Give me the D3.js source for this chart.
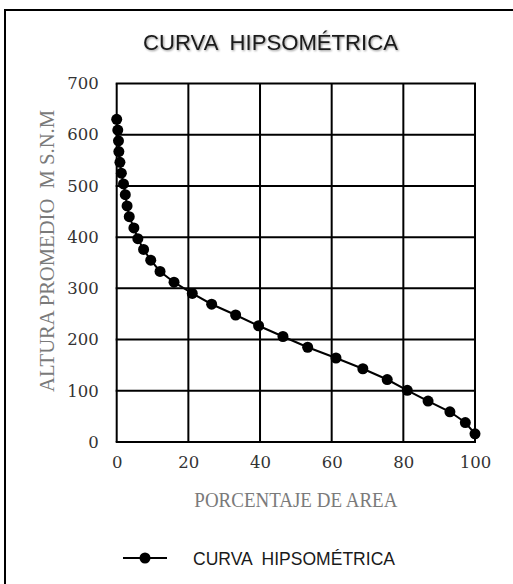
<!DOCTYPE html>
<html>
<head>
<meta charset="utf-8">
<script src="https://cdn.jsdelivr.net/npm/d3@7"></script>
<style>
  body { margin: 0; background: #fff; }
  svg { display: block; }
</style>
</head>
<body>
<svg id="chart" width="513" height="584"></svg>
<script>
// Porcentaje de area acumulada (x) y altura promedio m s.n.m (y)
const areaPct = [0, 0.3, 0.5, 0.6, 0.9, 1.3, 1.9, 2.4, 2.9, 3.5, 4.8, 5.9, 7.5, 9.5, 12.1,
    16.0, 21.1, 26.5, 33.2, 39.6, 46.4, 53.3, 61.2, 68.7, 75.5, 81.1, 86.9, 93.0, 97.3, 100];
const altura = [630, 609, 588, 567, 546, 525, 504, 483, 461, 440, 418, 397, 376, 355, 333,
    312, 290, 269, 248, 227, 206, 185, 164, 143, 122, 101, 80, 59, 38, 16];
const xTicks = [0, 20, 40, 60, 80, 100];
const yTicks = [0, 100, 200, 300, 400, 500, 600, 700];

const titulo = "CURVA  HIPSOMÉTRICA";
const xTitulo = "PORCENTAJE DE AREA";
const yTitulo = "ALTURA PROMEDIO  M S.N.M";

let svg = d3.select('svg#chart'),
    margin = {top: 83.5, right: 38, bottom: 142, left: 116.7},
    width = +svg.attr("width"),
    height = +svg.attr("height");

let x = d3.scaleLinear().domain([0, 100]).range([margin.left, width - margin.right]);
let y = d3.scaleLinear().domain([0, 700]).range([height - margin.bottom, margin.top]);

// outer frame (cut off at right and bottom like the picture)
svg.append('rect')
    .attr('x', 5).attr('y', 10)
    .attr('width', 540).attr('height', 620)
    .attr('fill', 'none').attr('stroke', '#000').attr('stroke-width', 2);

// title glow
let defs = svg.append('defs');
let f = defs.append('filter').attr('id', 'glow').attr('x', '-10%').attr('y', '-30%')
    .attr('width', '120%').attr('height', '160%');
f.append('feGaussianBlur').attr('in', 'SourceAlpha').attr('stdDeviation', 1.2).attr('result', 'b');
f.append('feOffset').attr('in', 'b').attr('dx', 0.5).attr('dy', 1).attr('result', 'o');
f.append('feComponentTransfer').attr('in', 'o').attr('result', 's')
    .append('feFuncA').attr('type', 'linear').attr('slope', 0.45);
let m = f.append('feMerge');
m.append('feMergeNode').attr('in', 's');
m.append('feMergeNode').attr('in', 'SourceGraphic');

svg.append('text')
    .attr('x', 270.5).attr('y', 50)
    .attr('text-anchor', 'middle')
    .style('white-space', 'pre')
    .attr('font-family', '"Liberation Sans", Arial, sans-serif')
    .attr('font-size', 22)
    .attr('fill', '#1a1a1a')
    .attr('filter', 'url(#glow)')
    .attr('textLength', 255).attr('lengthAdjust', 'spacingAndGlyphs')
    .text(titulo);

// grid
let grid = svg.append('g').attr('stroke', '#000').attr('stroke-width', 2);
grid.selectAll('line.vx')
    .data(xTicks)
    .enter().append('line')
    .attr('class', 'vx')
    .attr('x1', d => x(d)).attr('x2', d => x(d))
    .attr('y1', y(0)).attr('y2', y(700));
grid.selectAll('line.hy')
    .data(yTicks)
    .enter().append('line')
    .attr('class', 'hy')
    .attr('x1', x(0) - 1).attr('x2', x(100) + 1)
    .attr('y1', d => y(d)).attr('y2', d => y(d));

// axes (labels only)
let xAxis = d3.axisBottom(x).tickValues(xTicks).tickSize(0).tickPadding(14);
let yAxis = d3.axisLeft(y).tickValues(yTicks).tickSize(0).tickPadding(18);

let gx = svg.append('g')
    .attr('transform', 'translate(0,' + y(0) + ')')
    .call(xAxis);
let gy = svg.append('g')
    .attr('transform', 'translate(' + x(0) + ',0)')
    .call(yAxis);
[gx, gy].forEach(g => {
    g.select('.domain').remove();
    g.selectAll('text')
        .attr('font-family', '"DejaVu Serif", serif')
        .attr('font-size', 16.5)
        .attr('fill', '#333');
});
gx.selectAll('text').attr('dy', '0.71em');

// axis titles
svg.append('text')
    .attr('x', (x(0) + x(100)) / 2).attr('y', 507)
    .attr('text-anchor', 'middle')
    .attr('font-family', '"Liberation Serif", serif')
    .attr('font-size', 21)
    .attr('fill', '#7a7a7a')
    .attr('textLength', 203).attr('lengthAdjust', 'spacingAndGlyphs')
    .text(xTitulo);

svg.append('text')
    .attr('transform', 'translate(54,251) rotate(-90)')
    .attr('text-anchor', 'middle')
    .style('white-space', 'pre')
    .attr('font-family', '"Liberation Serif", serif')
    .attr('font-size', 21)
    .attr('fill', '#7a7a7a')
    .attr('textLength', 282).attr('lengthAdjust', 'spacingAndGlyphs')
    .text(yTitulo);

// series
let puntos = areaPct.map((d, i) => ({x: d, y: altura[i]}));
let line = d3.line().x(d => x(d.x)).y(d => y(d.y));

svg.append('path')
    .datum(puntos)
    .attr('d', line)
    .attr('fill', 'none')
    .attr('stroke', '#000')
    .attr('stroke-width', 2);

svg.append('g').selectAll('circle')
    .data(puntos)
    .enter().append('circle')
    .attr('cx', d => x(d.x))
    .attr('cy', d => y(d.y))
    .attr('r', 5.5)
    .attr('fill', '#000');

// legend
let lg = svg.append('g').attr('transform', 'translate(123,558)');
lg.append('line').attr('x1', 0).attr('x2', 44).attr('y1', 0).attr('y2', 0)
    .attr('stroke', '#000').attr('stroke-width', 2);
lg.append('circle').attr('cx', 22).attr('cy', 0).attr('r', 5.5).attr('fill', '#000');
lg.append('text')
    .attr('x', 70).attr('y', 7)
    .style('white-space', 'pre')
    .attr('font-family', '"Liberation Sans", Arial, sans-serif')
    .attr('font-size', 18)
    .attr('fill', '#1a1a1a')
    .attr('textLength', 202).attr('lengthAdjust', 'spacingAndGlyphs')
    .text(titulo);
</script>
</body>
</html>
